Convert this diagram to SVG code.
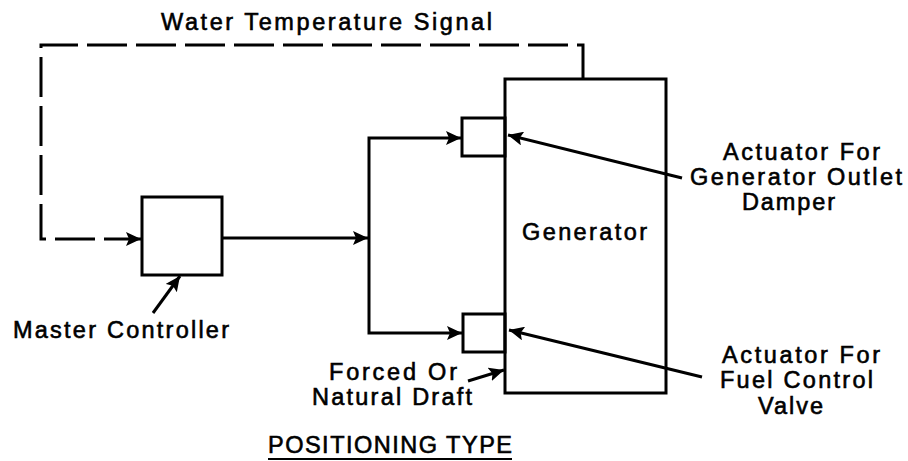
<svg xmlns="http://www.w3.org/2000/svg" width="908" height="461" viewBox="0 0 908 461">
<style>
.box{fill:none;stroke:#000;stroke-width:3}
.ln{fill:none;stroke:#000;stroke-width:3}
.dash{fill:none;stroke:#000;stroke-width:3;stroke-dasharray:40 9}
.t{font-family:"Liberation Sans",Arial,sans-serif;font-size:23.5px;fill:#000;stroke:#000;stroke-width:0.6}
</style>
<defs>
<marker id="ah" markerUnits="userSpaceOnUse" markerWidth="16" markerHeight="14" refX="15" refY="7" orient="auto">
<path d="M0,0 L15,7 L0,14 L3,7 z" fill="#000"/>
</marker>
</defs>
<rect width="908" height="461" fill="#fff"/>
<g id="title"><text class="t" x="161" y="30" textLength="331" lengthAdjust="spacing">Water Temperature Signal</text></g>
<g id="master-controller">
<rect class="box" x="142" y="197" width="80" height="78"/>
<text class="t" x="13" y="338" textLength="216" lengthAdjust="spacing">Master Controller</text>
</g>
<g id="generator">
<rect class="box" x="505" y="79" width="161" height="314"/>
<text class="t" x="522" y="240" textLength="125" lengthAdjust="spacing">Generator</text>
</g>
<g id="actuator-damper">
<rect class="box" x="462" y="118" width="43" height="38"/>
<text class="t" x="723" y="160" textLength="157" lengthAdjust="spacing">Actuator For</text>
<text class="t" x="690" y="185" textLength="212" lengthAdjust="spacing">Generator Outlet</text>
<text class="t" x="742" y="210" textLength="93" lengthAdjust="spacing">Damper</text>
</g>
<g id="actuator-fuel">
<rect class="box" x="463" y="314" width="42" height="38"/>
<text class="t" x="722" y="363" textLength="158" lengthAdjust="spacing">Actuator For</text>
<text class="t" x="720" y="388" textLength="153" lengthAdjust="spacing">Fuel Control</text>
<text class="t" x="758" y="414" textLength="65" lengthAdjust="spacing">Valve</text>
</g>
<g id="draft-label">
<text class="t" x="329" y="380" textLength="128" lengthAdjust="spacing">Forced Or</text>
<text class="t" x="312" y="405" textLength="160" lengthAdjust="spacing">Natural Draft</text>
</g>
<g id="caption">
<text class="t" x="268" y="453" textLength="244" lengthAdjust="spacing">POSITIONING TYPE</text>
<line x1="268" y1="459" x2="512" y2="459" stroke="#000" stroke-width="2"/>
</g>
<g id="connectors">
<path class="dash" d="M583 79 L583 45 L41 45 L41 239 L141 239" marker-end="url(#ah)"/>
<path class="ln" d="M222 238 L368 238" marker-end="url(#ah)"/>
<path class="ln" d="M369 238 L369 138 L461 138" marker-end="url(#ah)"/>
<path class="ln" d="M369 238 L369 333 L462 333" marker-end="url(#ah)"/>
<path class="ln" d="M153 313 L180 276" marker-end="url(#ah)"/>
<path class="ln" d="M682 178 L508 135" marker-end="url(#ah)"/>
<path class="ln" d="M702 377 L509 330" marker-end="url(#ah)"/>
<path class="ln" d="M468 381 L504 370" marker-end="url(#ah)"/>
</g>
</svg>
